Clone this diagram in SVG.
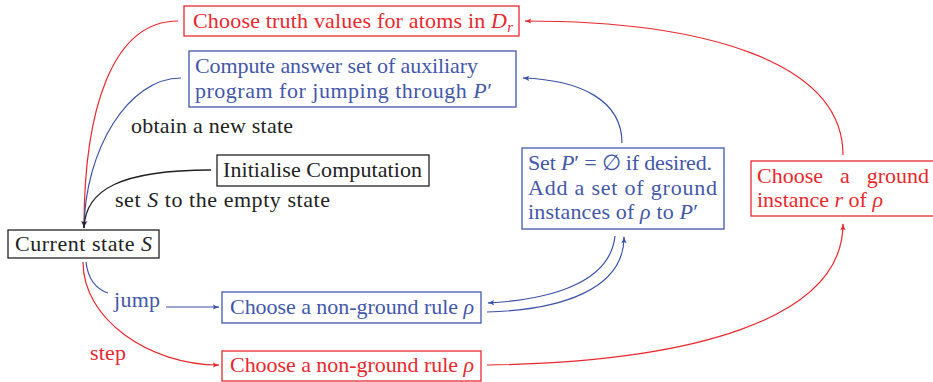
<svg xmlns="http://www.w3.org/2000/svg" width="933" height="382" viewBox="0 0 933 382">
<style>
text{font-family:'Liberation Serif','Times New Roman',serif;font-size:22px}
.r{fill:#e8282e}
.b{fill:#4357a9}
.k{fill:#222}
.i{font-style:italic}
.br{fill:none;stroke:#e8282e;stroke-width:1.3}
.bb{fill:none;stroke:#4357a9;stroke-width:1.3}
.bk{fill:none;stroke:#222;stroke-width:1.3}
.cr{fill:none;stroke:#e8282e;stroke-width:1.2}
.cb{fill:none;stroke:#3b52a6;stroke-width:1.2}
.ck{fill:none;stroke:#222;stroke-width:1.3}
</style>
<defs>
<marker id="mr" viewBox="0 0 10 10" refX="9" refY="5" markerWidth="7" markerHeight="7" markerUnits="userSpaceOnUse" orient="auto"><path d="M0,1 Q5,4 10,5 Q5,6 0,9 Q3,5 0,1z" fill="#e8282e"/></marker>
<marker id="mb" viewBox="0 0 10 10" refX="9" refY="5" markerWidth="7" markerHeight="7" markerUnits="userSpaceOnUse" orient="auto"><path d="M0,1 Q5,4 10,5 Q5,6 0,9 Q3,5 0,1z" fill="#3b52a6"/></marker>
<marker id="mk" viewBox="0 0 10 10" refX="9" refY="5" markerWidth="8" markerHeight="8" markerUnits="userSpaceOnUse" orient="auto"><path d="M0,1 Q5,4 10,5 Q5,6 0,9 Q3,5 0,1z" fill="#2a1f3a"/></marker>
</defs>
<g id="connectors">
<path class="cr" d="M178,21 C112,21 84,110 84,228"/>
<path class="cb" d="M181,78 C128,78 85,150 84,228"/>
<path class="ck" d="M211,170 C120,170 85,190 84,228" marker-end="url(#mk)"/>
<path class="cr" d="M83,262 C83,320 150,365 219,365" marker-end="url(#mr)"/>
<path class="cb" d="M86,262 C88,279 96,289 108,293"/>
<path class="cb" d="M166,307 L219,307" marker-end="url(#mb)"/>
<path class="cr" d="M487,365 C690,362 843,320 843,224" marker-end="url(#mr)"/>
<path class="cr" d="M843,155 C843,60 700,21 525,21" marker-end="url(#mr)"/>
<path class="cb" d="M622,143 C622,100 580,80 523,78" marker-end="url(#mb)"/>
<path class="cb" d="M615,236 C610,285 545,300 488,303" marker-end="url(#mb)"/>
<path class="cb" d="M487,312 C560,310 624,290 624,237" marker-end="url(#mb)"/>
</g>
<g id="truth">
<rect class="br" x="184" y="6" width="335" height="30"/>
<text class="r" x="193" y="28" textLength="320">Choose truth values for atoms in <tspan class="i">D</tspan><tspan class="i" font-size="15" dy="4">r</tspan></text>
</g>
<g id="compute">
<rect class="bb" x="189" y="51" width="327" height="56"/>
<text class="b" x="195" y="73" textLength="283">Compute answer set of auxiliary</text>
<text class="b" x="195" y="98" textLength="297">program for jumping through <tspan class="i">P</tspan>′</text>
</g>
<g id="obtain-label"><text class="k" x="131" y="133" textLength="162">obtain a new state</text></g>
<g id="init">
<rect class="bk" x="217" y="155" width="212" height="31"/>
<text class="k" x="223" y="177" textLength="199">Initialise Computation</text>
</g>
<g id="set-label"><text class="k" x="115" y="207" textLength="215">set <tspan class="i">S</tspan> to the empty state</text></g>
<g id="current">
<rect class="bk" x="8" y="230" width="151" height="28"/>
<text class="k" x="15" y="251" textLength="137">Current state <tspan class="i">S</tspan></text>
</g>
<g id="jump-label"><text class="b" x="114" y="307" textLength="46">jump</text></g>
<g id="step-label"><text class="r" x="90" y="360" textLength="36">step</text></g>
<g id="rule-blue">
<rect class="bb" x="222" y="292" width="259" height="31"/>
<text class="b" x="230" y="314" textLength="244">Choose a non-ground rule <tspan class="i">ρ</tspan></text>
</g>
<g id="rule-red">
<rect class="br" x="222" y="351" width="259" height="30"/>
<text class="r" x="230" y="372" textLength="244">Choose a non-ground rule <tspan class="i">ρ</tspan></text>
</g>
<g id="setP">
<rect class="bb" x="522" y="148" width="202" height="81"/>
<text class="b" x="528" y="170" textLength="184">Set <tspan class="i">P</tspan>′ = ∅ if desired.</text>
<text class="b" x="528" y="195" textLength="189">Add  a  set  of  ground</text>
<text class="b" x="528" y="219" textLength="170">instances of <tspan class="i">ρ</tspan> to <tspan class="i">P</tspan>′</text>
</g>
<g id="ground">
<rect class="br" x="751" y="161" width="195" height="55"/>
<text class="r" x="757" y="183">Choose</text>
<text class="r" x="840" y="183">a</text>
<text class="r" x="929" y="183" text-anchor="end">ground</text>
<text class="r" x="757" y="207" textLength="126">instance <tspan class="i">r</tspan> of <tspan class="i">ρ</tspan></text>
</g>
</svg>
